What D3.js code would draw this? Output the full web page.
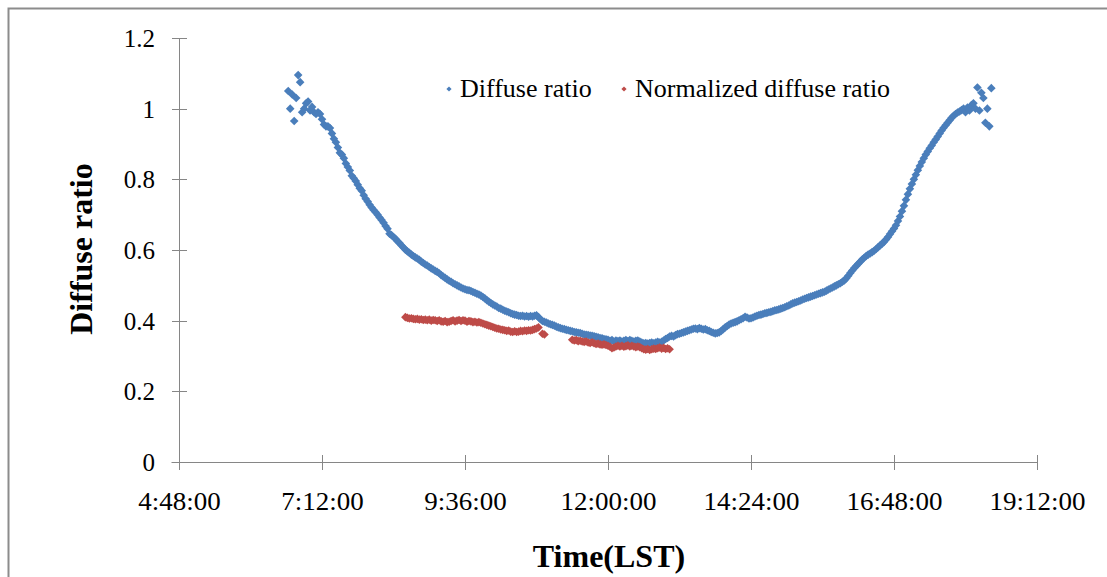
<!DOCTYPE html>
<html>
<head>
<meta charset="utf-8">
<script src="https://cdn.jsdelivr.net/npm/d3@7"></script>
<style>
  html, body { margin: 0; padding: 0; background: #ffffff; }
  svg { display: block; font-family: "Liberation Serif", "Times New Roman", serif; }
</style>
</head>
<body>
<svg id="chart" width="1107" height="577"></svg>
<script>
// Series names shown in the legend
const seriesNames = ["Diffuse ratio", "Normalized diffuse ratio"];

// Sampling: first timestamp of each series and spacing between samples (minutes)
const diffuseStart = "6:38";
const normalizedStart = "8:36";
const stepMinutes = 2;

// Diffuse ratio, one value per sample
const diffuseRatio = [
  1.05,1.0,1.04,0.965,1.03,1.095,1.075,0.99,1.0,1.015,
  1.02,0.995,1.005,0.99,0.985,0.99,0.985,0.97,0.955,0.95,
  0.95,0.945,0.93,0.915,0.905,0.89,0.875,0.87,0.86,0.845,
  0.835,0.825,0.81,0.803,0.795,0.785,0.775,0.768,0.755,0.745,
  0.737,0.728,0.72,0.713,0.707,0.7,0.692,0.685,0.677,0.668,
  0.66,0.646,0.642,0.637,0.632,0.625,0.62,0.613,0.607,0.601,
  0.596,0.592,0.587,0.583,0.579,0.576,0.572,0.567,0.563,0.559,
  0.556,0.552,0.548,0.545,0.541,0.538,0.534,0.529,0.525,0.521,
  0.517,0.513,0.51,0.506,0.503,0.5,0.497,0.494,0.491,0.489,
  0.487,0.486,0.484,0.481,0.479,0.476,0.474,0.471,0.467,0.463,
  0.458,0.454,0.45,0.446,0.443,0.44,0.436,0.434,0.431,0.428,
  0.426,0.424,0.421,0.419,0.417,0.416,0.414,0.413,0.414,0.412,
  0.413,0.411,0.413,0.412,0.414,0.415,0.41,0.404,0.399,0.397,
  0.395,0.392,0.39,0.388,0.386,0.383,0.381,0.379,0.377,0.376,
  0.374,0.373,0.371,0.37,0.368,0.367,0.366,0.365,0.363,0.361,
  0.36,0.359,0.358,0.357,0.356,0.354,0.353,0.351,0.35,0.348,
  0.347,0.346,0.343,0.345,0.341,0.344,0.342,0.344,0.341,0.343,
  0.345,0.342,0.345,0.343,0.341,0.343,0.344,0.341,0.338,0.336,
  0.337,0.335,0.337,0.338,0.336,0.338,0.34,0.338,0.34,0.344,
  0.348,0.351,0.355,0.357,0.355,0.359,0.362,0.363,0.365,0.367,
  0.369,0.371,0.373,0.375,0.377,0.378,0.376,0.379,0.377,0.375,
  0.376,0.373,0.371,0.368,0.366,0.364,0.365,0.367,0.371,0.376,
  0.381,0.385,0.389,0.392,0.394,0.396,0.398,0.401,0.404,0.407,
  0.411,0.409,0.406,0.407,0.409,0.412,0.414,0.416,0.417,0.419,
  0.421,0.422,0.424,0.425,0.427,0.429,0.43,0.432,0.434,0.436,
  0.438,0.441,0.443,0.446,0.449,0.451,0.453,0.455,0.457,0.46,
  0.462,0.464,0.466,0.468,0.47,0.472,0.474,0.476,0.478,0.48,
  0.482,0.485,0.488,0.491,0.494,0.497,0.5,0.503,0.506,0.51,
  0.514,0.52,0.527,0.535,0.542,0.549,0.555,0.561,0.567,0.573,
  0.578,0.583,0.587,0.59,0.594,0.598,0.603,0.608,0.613,0.618,
  0.623,0.63,0.637,0.645,0.653,0.661,0.67,0.682,0.695,0.71,
  0.725,0.742,0.758,0.773,0.787,0.8,0.813,0.826,0.838,0.849,
  0.86,0.87,0.879,0.888,0.896,0.905,0.913,0.921,0.93,0.938,
  0.946,0.953,0.96,0.967,0.974,0.98,0.985,0.989,0.992,0.996,
  1.0,0.99,1.003,0.995,1.01,1.015,1.0,1.06,0.995,1.045,
  1.03,0.96,1.0,0.95,1.058
];

// Normalized diffuse ratio, one value per sample (null = no reading)
const normalizedRatio = [
  0.41,0.408,0.406,0.407,0.405,0.404,0.405,0.403,0.404,0.402,
  0.403,0.401,0.403,0.4,0.402,0.401,0.399,0.401,0.398,0.397,
  0.399,0.396,0.397,0.399,0.401,0.398,0.4,0.402,0.399,0.401,
  0.4,0.397,0.399,0.398,0.396,0.397,0.395,0.396,0.394,0.392,
  0.39,0.388,0.386,0.384,0.382,0.38,0.378,0.377,0.375,0.374,
  0.373,0.371,0.372,0.369,0.368,0.37,0.368,0.369,0.371,0.37,
  0.372,0.371,0.373,0.372,0.374,0.376,0.378,0.381,null,0.363,
  0.361,null,null,null,null,null,null,null,null,null,
  null,null,null,null,0.346,0.344,0.345,0.342,0.343,0.341,
  0.34,0.341,0.338,0.337,0.339,0.336,0.334,0.335,0.333,0.332,
  0.333,0.331,0.329,0.326,0.322,0.324,0.327,0.329,0.327,0.329,
  0.326,0.328,0.33,0.327,0.329,0.327,0.325,0.327,0.325,0.322,
  0.319,0.318,0.32,0.317,0.319,0.321,0.32,0.322,0.324,0.321,
  0.323,0.32,0.322,0.319
];

// Axis ticks
const xTickLabels = ["4:48:00", "7:12:00", "9:36:00", "12:00:00", "14:24:00", "16:48:00", "19:12:00"];
const yTicks = [0, 0.2, 0.4, 0.6, 0.8, 1, 1.2];

// ---- drawing ----
const colors = ["#4A7EBB", "#BE4B48"];
const axisColor = "#868686";

const toMinutes = s => { const p = s.split(":").map(Number); return p[0] * 60 + p[1] + (p[2] || 0) / 60; };
const xTickMinutes = xTickLabels.map(toMinutes);

const svg = d3.select("#chart");

// chart border
svg.append("rect")
  .attr("x", 8.5).attr("y", 8.5).attr("width", 1130).attr("height", 620)
  .attr("fill", "#fff").attr("stroke", "#8c8c8c").attr("stroke-width", 2);

const x = d3.scaleLinear()
  .domain([xTickMinutes[0], xTickMinutes[xTickMinutes.length - 1]])
  .range([179, 1037]);
const y = d3.scaleLinear().domain([0, 1.2]).range([462, 38]);

const tickHalf = 7.5;
const fmtY = d => String(+d.toFixed(1));

// y axis
const gy = svg.append("g").attr("transform", "translate(179.5,0)")
  .call(d3.axisLeft(y).tickValues(yTicks).tickFormat(fmtY).tickSizeOuter(0).tickSizeInner(tickHalf).tickPadding(17));
gy.select(".domain").attr("d", `M0,${y(1.2)}V${y(0) + tickHalf}`);
gy.selectAll(".tick line").attr("x1", -tickHalf).attr("x2", tickHalf);
gy.selectAll(".tick").attr("transform", d => `translate(0,${Math.round(y(d)) + 0.5})`);

// x axis
const gx = svg.append("g").attr("transform", `translate(0,${y(0) + 0.5})`)
  .call(d3.axisBottom(x).tickValues(xTickMinutes).tickFormat((d, i) => xTickLabels[i]).tickSizeOuter(0).tickSizeInner(tickHalf).tickPadding(22));
gx.select(".domain").attr("d", `M${x(xTickMinutes[0]) - tickHalf},0H${x(xTickMinutes[xTickMinutes.length - 1])}`);
gx.selectAll(".tick line").attr("y1", -tickHalf).attr("y2", tickHalf);
gx.selectAll(".tick").attr("transform", d => `translate(${Math.round(x(d)) + 0.5},0)`);

[gx, gy].forEach(g => {
  g.selectAll(".domain, .tick line").attr("stroke", axisColor).attr("stroke-width", 1);
  g.selectAll(".tick text")
    .attr("fill", "#000")
    .style("font-family", '"Liberation Serif", "Times New Roman", serif')
    .style("font-size", "25px");
});
// time labels are set a little wider
gx.selectAll(".tick text").attr("transform", "scale(1.08,1)");

// series points
const diamond = r => `M0,${-r}L${r},0L0,${r}L${-r},0Z`;

function samples(start, values) {
  const t0 = toMinutes(start);
  return values.map((v, i) => ({ t: t0 + i * stepMinutes, v })).filter(d => d.v != null);
}

const series = [samples(diffuseStart, diffuseRatio), samples(normalizedStart, normalizedRatio)];

series.forEach((pts, k) => {
  svg.append("g").selectAll("path").data(pts).join("path")
    .attr("d", diamond(4.3))
    .attr("transform", d => `translate(${x(d.t)},${y(d.v)})`)
    .attr("fill", colors[k]);
});

// legend
const legendItems = [{ mx: 449, tx: 460 }, { mx: 624, tx: 635 }];
legendItems.forEach((L, k) => {
  svg.append("path").attr("d", diamond(2.6)).attr("transform", `translate(${L.mx},89)`).attr("fill", colors[k]);
  svg.append("text").attr("x", L.tx).attr("y", 97)
    .attr("font-size", 26).attr("fill", "#000")
    .text(seriesNames[k]);
});

// axis titles
svg.append("text")
  .attr("transform", `translate(92,249) rotate(-90)`)
  .attr("text-anchor", "middle")
  .attr("font-size", 32).attr("font-weight", "bold")
  .text("Diffuse ratio");

svg.append("text")
  .attr("x", 609).attr("y", 567)
  .attr("text-anchor", "middle")
  .attr("font-size", 32).attr("font-weight", "bold")
  .text("Time(LST)");
</script>
</body>
</html>
